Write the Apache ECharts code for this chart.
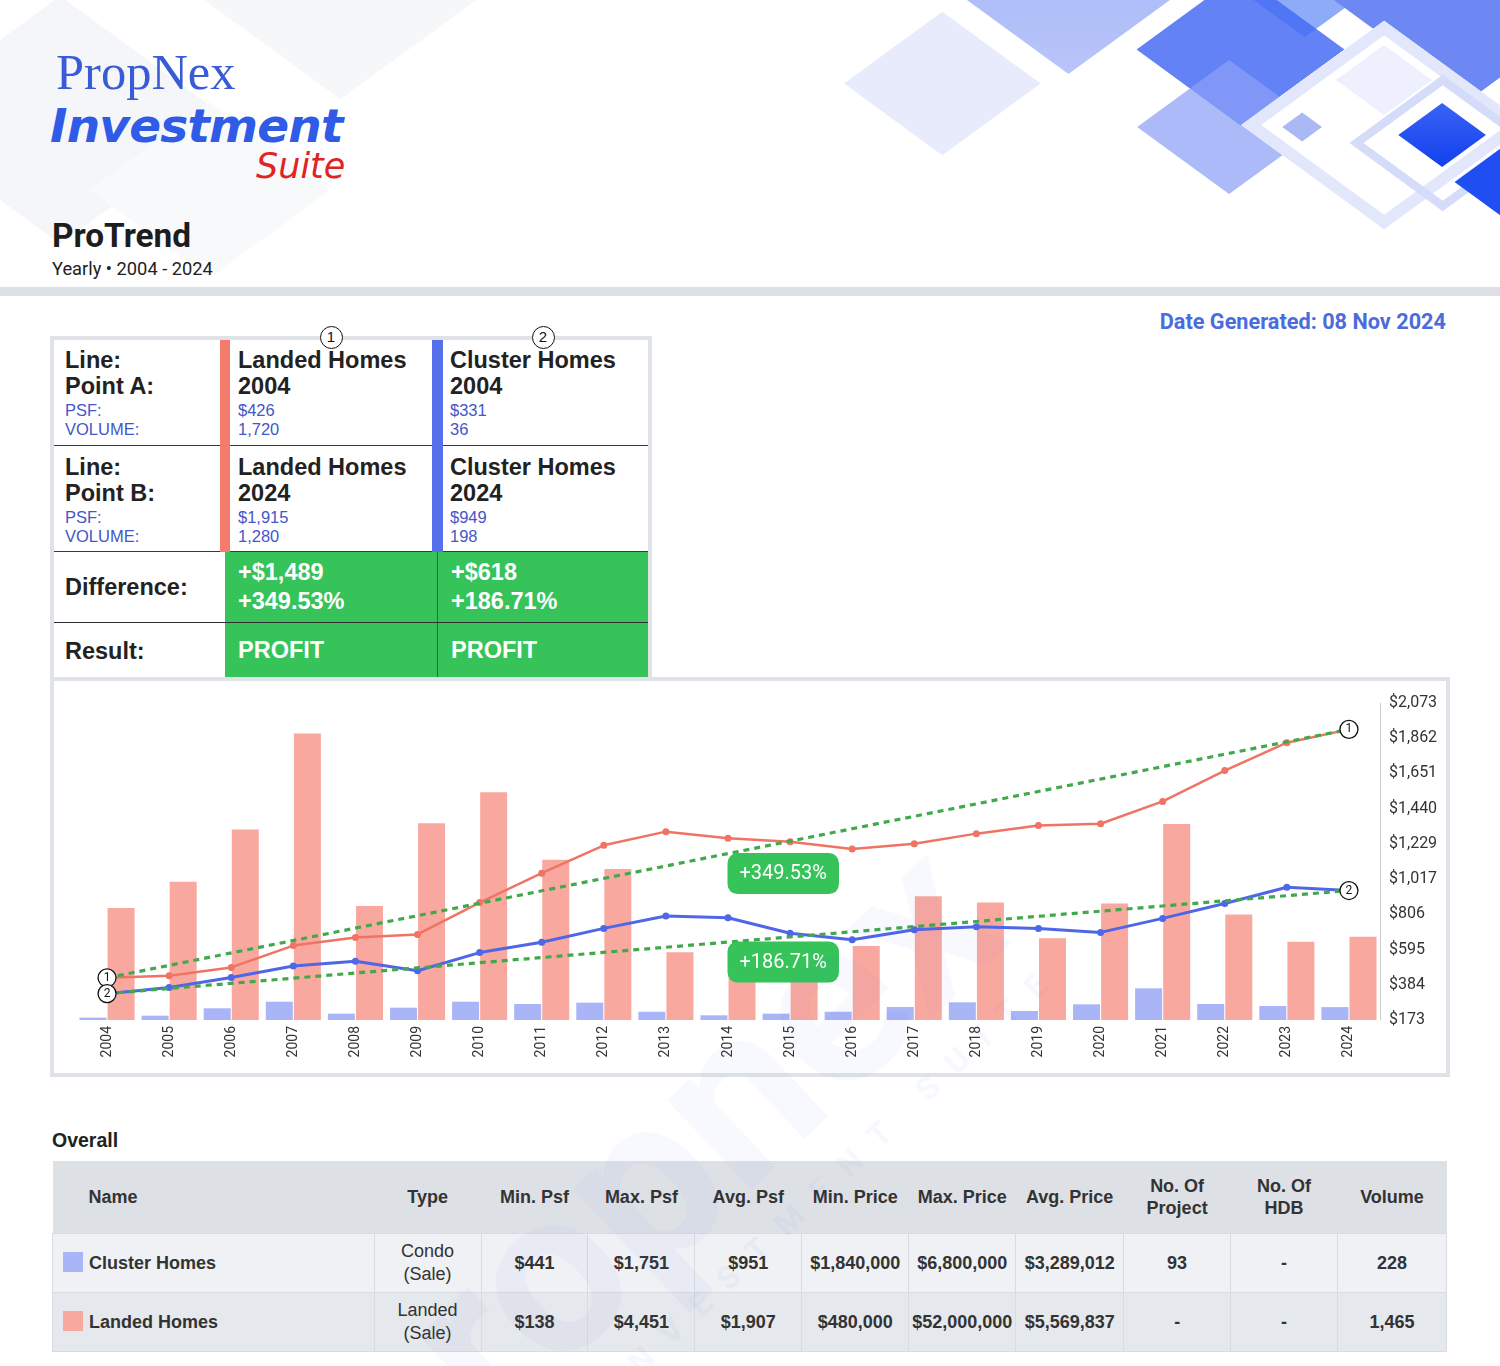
<!DOCTYPE html>
<html><head><meta charset="utf-8">
<script src="https://cdn.jsdelivr.net/npm/echarts@6/dist/echarts.min.js"></script>
<style>
html,body{margin:0;padding:0}
body{width:1500px;height:1366px;position:relative;overflow:hidden;background:#fff;font-family:Roboto,"Liberation Sans",Arial,sans-serif;color:#222}
.a{position:absolute;white-space:nowrap}
.dia{position:absolute;transform:scaleY(0.73) rotate(45deg);box-sizing:border-box}
#deco{position:absolute;left:0;top:0;width:1500px;height:287px;overflow:hidden}
.sum{font-family:"Liberation Sans",Arial,sans-serif}
.bL{font-weight:bold;font-size:23.5px;color:#222;line-height:26px}
.sL{font-size:16.5px;color:#4456c8;line-height:19px}
.wL{font-weight:bold;font-size:23.5px;color:#fff;line-height:29px}
.circ{position:absolute;width:23px;height:23px;border:1.7px solid #111;border-radius:50%;background:#fff;box-sizing:border-box;text-align:center;font:15px "Liberation Sans",Arial,sans-serif;line-height:20px;color:#111}
table.ov{position:absolute;left:52px;top:1161px;width:1395px;border-collapse:collapse;font-family:"Liberation Sans",Arial,sans-serif;font-size:18px;color:#333}
table.ov th{background:#dde1e6;height:72px;font-weight:bold;text-align:center;padding:0;line-height:22px}
table.ov td{height:58px;text-align:center;font-weight:bold;padding:0;border:1px solid #d8dbe0;line-height:23px}
table.ov tr.r1 td{background:#eff1f4}
table.ov tr.r2 td{background:#e5e8ec}
table.ov td.typ{font-weight:normal}
.sw{display:inline-block;width:20px;height:20px;vertical-align:middle;margin:0 6px 0 10px;position:relative;top:-2px}
#wm{position:absolute;left:0;top:0;width:1500px;height:1366px;pointer-events:none;overflow:hidden;z-index:20}
</style>
</head>
<body>
<div id="deco"></div>

<!-- Logo -->
<div class="a" style="left:56px;top:42px;font-family:'Liberation Serif','DejaVu Serif',serif;font-size:50.5px;color:#3a5bd8;line-height:60px">PropNex</div>
<div class="a" style="left:50px;top:96px;font-family:'DejaVu Sans',sans-serif;font-weight:bold;font-style:italic;font-size:47px;color:#2f5be6;line-height:60px;letter-spacing:-0.8px">Investment</div>
<div class="a" style="left:256px;top:144px;font-family:'DejaVu Sans',sans-serif;font-style:italic;font-size:35px;color:#e02424;line-height:44px;font-weight:normal">Suite</div>

<div class="a" style="left:52px;top:216px;font-size:33.4px;font-weight:bold;color:#1d1d1d;line-height:40px">ProTrend</div>
<div class="a" style="left:52px;top:258px;font-size:18.3px;color:#222;line-height:22px">Yearly • 2004 - 2024</div>

<div class="a" style="left:0;top:287px;width:1500px;height:9px;background:#dde1e6"></div>

<div class="a" style="right:54px;top:309px;font-size:21.7px;font-weight:bold;color:#4a6cdc;line-height:26px">Date Generated: 08 Nov 2024</div>

<!-- Summary table -->
<div id="sum" class="sum">
  <div class="a" style="left:50px;top:336px;width:602px;height:345px;border:4px solid #dfe3e8;box-sizing:border-box;background:#fff"></div>
  <div class="a" style="left:225px;top:552px;width:423px;height:125px;background:#35c35a"></div>
  <div class="a" style="left:437px;top:552px;width:1px;height:125px;background:#2a6e37"></div>
  <div class="a" style="left:54px;top:445px;width:594px;height:1px;background:#3a3a3a"></div>
  <div class="a" style="left:54px;top:551px;width:594px;height:1px;background:#3a3a3a"></div>
  <div class="a" style="left:54px;top:622px;width:594px;height:1px;background:#2f2f2f"></div>
  <div class="a" style="left:220px;top:340px;width:10px;height:212px;background:#f47c6c"></div>
  <div class="a" style="left:432px;top:340px;width:11px;height:212px;background:#5570ea"></div>

  <div class="a bL" style="left:65px;top:347px">Line:</div>
  <div class="a bL" style="left:65px;top:373px">Point A:</div>
  <div class="a sL" style="left:65px;top:401px">PSF:</div>
  <div class="a sL" style="left:65px;top:420px">VOLUME:</div>
  <div class="a bL" style="left:238px;top:347px">Landed Homes</div>
  <div class="a bL" style="left:238px;top:373px">2004</div>
  <div class="a sL" style="left:238px;top:401px">$426</div>
  <div class="a sL" style="left:238px;top:420px">1,720</div>
  <div class="a bL" style="left:450px;top:347px">Cluster Homes</div>
  <div class="a bL" style="left:450px;top:373px">2004</div>
  <div class="a sL" style="left:450px;top:401px">$331</div>
  <div class="a sL" style="left:450px;top:420px">36</div>

  <div class="a bL" style="left:65px;top:454px">Line:</div>
  <div class="a bL" style="left:65px;top:480px">Point B:</div>
  <div class="a sL" style="left:65px;top:508px">PSF:</div>
  <div class="a sL" style="left:65px;top:527px">VOLUME:</div>
  <div class="a bL" style="left:238px;top:454px">Landed Homes</div>
  <div class="a bL" style="left:238px;top:480px">2024</div>
  <div class="a sL" style="left:238px;top:508px">$1,915</div>
  <div class="a sL" style="left:238px;top:527px">1,280</div>
  <div class="a bL" style="left:450px;top:454px">Cluster Homes</div>
  <div class="a bL" style="left:450px;top:480px">2024</div>
  <div class="a sL" style="left:450px;top:508px">$949</div>
  <div class="a sL" style="left:450px;top:527px">198</div>

  <div class="a bL" style="left:65px;top:574px">Difference:</div>
  <div class="a wL" style="left:238px;top:558px">+$1,489</div>
  <div class="a wL" style="left:238px;top:587px">+349.53%</div>
  <div class="a wL" style="left:451px;top:558px">+$618</div>
  <div class="a wL" style="left:451px;top:587px">+186.71%</div>

  <div class="a bL" style="left:65px;top:638px">Result:</div>
  <div class="a wL" style="left:238px;top:636px">PROFIT</div>
  <div class="a wL" style="left:451px;top:636px">PROFIT</div>

  <div class="circ" style="left:319.5px;top:325.5px">1</div>
  <div class="circ" style="left:531.5px;top:325.5px">2</div>
</div>

<!-- Chart box -->
<div class="a" style="left:50px;top:677px;width:1400px;height:400px;border:4px solid #dfe3e8;box-sizing:border-box;background:#fff"></div>
<div id="chart" class="a" style="left:54px;top:681px;width:1392px;height:392px"></div>

<!-- Overall -->
<div class="a" style="left:52px;top:1127px;font-size:19.5px;font-weight:bold;color:#222;line-height:26px;font-family:'Liberation Sans',Arial,sans-serif">Overall</div>
<table class="ov" id="ov"></table>

<div id="wm"></div>

<script>
// ---------------- DATA ----------------
const years = ['2004','2005','2006','2007','2008','2009','2010','2011','2012','2013','2014','2015','2016','2017','2018','2019','2020','2021','2022','2023','2024'];
const landedPsf  = [426,438,488,619,667,686,877,1053,1220,1302,1263,1242,1198,1230,1290,1339,1349,1483,1668,1835,1915];
const clusterPsf = [331,368,428,497,525,468,577,639,722,796,786,693,654,714,732,722,698,782,871,969,949];
const landedVol  = [1720,2123,2927,4401,1750,3024,3500,2461,2318,1039,1000,850,1136,1903,1807,1254,1791,3013,1622,1202,1280];
const clusterVol = [36,66,180,281,97,189,281,246,266,127,72,97,127,200,272,138,241,487,246,215,198];
const psfTicks   = [173,384.11,595.22,806.33,1017.44,1228.56,1439.67,1650.78,1861.89,2073];
const trendLabels = ['+349.53%','+186.71%'];

const ovHeaders = ['Name','Type','Min. Psf','Max. Psf','Avg. Psf','Min. Price','Max. Price','Avg. Price','No. Of<br>Project','No. Of<br>HDB','Volume'];
const ovCluster = ['Cluster Homes','Condo<br>(Sale)','$441','$1,751','$951','$1,840,000','$6,800,000','$3,289,012','93','-','228'];
const ovLanded  = ['Landed Homes','Landed<br>(Sale)','$138','$4,451','$1,907','$480,000','$52,000,000','$5,569,837','-','-','1,465'];

// --------------- decoration ---------------
const decor = [
  {cx:60,cy:120,h:170,bg:'#f5f6f9'},
  {cx:340,cy:-40,h:190,bg:'#f6f7f9'},
  {cx:210,cy:190,h:120,bg:'#f8f9fb'},
  {cx:942,cy:83,h:98,bg:'#e8ebfb'},
  {cx:1068,cy:-25,h:135,bg:'linear-gradient(135deg,#9fb1f7,#b9c5f9)'},
  {cx:1305,cy:-35,h:100,bg:'#8eabf8'},
  {cx:1470,cy:-10,h:150,bg:'#6d88f2'},
  {cx:1241,cy:50,h:104,bg:'rgba(70,108,244,0.85)'},
  {cx:1229,cy:127,h:92,bg:'rgba(140,160,246,0.72)'},
  {cx:1384,cy:125,h:143,bg:'#ffffff',border:'14px solid #e3e7fb'},
  {cx:1384,cy:80,h:48,bg:'#eef1fd'},
  {cx:1443,cy:143,h:93,bg:'transparent',border:'10px solid #d5dcfa'},
  {cx:1302,cy:127,h:20,bg:'#aab9f6'},
  {cx:1442,cy:135,h:44,bg:'linear-gradient(135deg,#3a62f4,#1241ee)'},
  {cx:1500,cy:182,h:45,bg:'#1f4ff2'}
];
const deco = document.getElementById('deco');
decor.forEach(d=>{
  const s = d.h*Math.SQRT2;
  const el = document.createElement('div');
  el.className='dia';
  el.style.left=(d.cx-s/2)+'px'; el.style.top=(d.cy-s/2)+'px';
  el.style.width=s+'px'; el.style.height=s+'px';
  el.style.background=d.bg;
  if(d.border) el.style.border=d.border;
  deco.appendChild(el);
});

// watermark
const wm = document.getElementById('wm');
const w1 = document.createElement('div');
w1.textContent='propnex';
w1.style.cssText='position:absolute;left:345px;top:1350px;font:bold 232px Roboto,sans-serif;color:rgba(70,100,225,0.04);transform:rotate(-43.5deg);transform-origin:0 50%;line-height:232px;white-space:nowrap';
wm.appendChild(w1);
const w2 = document.createElement('div');
w2.textContent='INVESTMENT SUITE';
w2.style.cssText='position:absolute;left:612px;top:1372px;font:bold 32px Roboto,sans-serif;letter-spacing:20px;color:rgba(70,100,225,0.045);transform:rotate(-43.5deg);transform-origin:0 50%;line-height:32px;white-space:nowrap';
wm.appendChild(w2);

// Overall table
const ov = document.getElementById('ov');
const widths = [322,107,107,107,107,107,107,108,107,107,109];
let html = '<colgroup>'+widths.map(w=>'<col style="width:'+w+'px">').join('')+'</colgroup>';
html += '<tr>'+ovHeaders.map((h,i)=>'<th'+(i===0?' style="text-align:left;padding-left:36px"':'')+'>'+h+'</th>').join('')+'</tr>';
function row(cls, data, color){
  return '<tr class="'+cls+'">'+data.map((v,i)=>{
    if(i===0) return '<td style="text-align:left"><span class="sw" style="background:'+color+'"></span>'+v+'</td>';
    if(i===1) return '<td class="typ">'+v+'</td>';
    return '<td>'+v+'</td>';
  }).join('')+'</tr>';
}
html += row('r1', ovCluster, '#a9b5f7');
html += row('r2', ovLanded, '#f9a89f');
ov.innerHTML = html;

// --------------- chart ---------------
const chart = echarts.init(document.getElementById('chart'), null, {renderer:'canvas'});
const green = '#40a94b';
function circleMark(idx, val, num){
  return {coord:[years[idx], val], value:num, symbol:'circle', symbolSize:18,
    itemStyle:{color:'#fff', borderColor:'#111', borderWidth:1.3},
    label:{show:true, position:'inside', formatter:num, color:'#111', fontSize:12, fontFamily:'Roboto'}};
}
function pctMark(a, b, text){
  const mid = Math.round((years.length-1)/2);
  return {coord:[years[mid], (a+b)/2], value:text, symbol:'rect', symbolSize:1,
    itemStyle:{color:'rgba(0,0,0,0)'},
    label:{show:true, position:[0,0], align:'left', verticalAlign:'top', formatter:text,
      backgroundColor:'#35c35a', borderRadius:10, padding:[9,12,8,12], color:'#fff',
      fontSize:20, lineHeight:24, fontFamily:'Roboto'}};
}
const n = years.length-1;
const option = {
  animation:false,
  grid:{left:22, top:22, width:1304, height:317, containLabel:false},
  xAxis:{type:'category', data:years, boundaryGap:true,
    axisLine:{show:false}, axisTick:{show:false},
    axisLabel:{rotate:90, fontSize:14, color:'#333', margin:6, fontFamily:'Roboto', interval:0}},
  yAxis:[
    {type:'value', position:'right', min:173, max:2073,
     axisLine:{show:true, lineStyle:{color:'#cfcfcf', width:1}},
     axisTick:{show:false}, splitLine:{show:false},
     axisLabel:{customValues:psfTicks, fontSize:16, color:'#333', margin:9, fontFamily:'Roboto',
       formatter:v=>'$'+Math.round(v).toLocaleString('en-US')}},
    {type:'value', min:0, max:4870, show:false, splitLine:{show:false}}
  ],
  series:[
    {name:'Cluster Homes Volume', type:'bar', yAxisIndex:1, data:clusterVol, barWidth:27, barGap:'4%',
     itemStyle:{color:'#a9b5f7'}, z:1},
    {name:'Landed Homes Volume', type:'bar', yAxisIndex:1, data:landedVol, barWidth:27, barGap:'4%',
     itemStyle:{color:'#f9a89f'}, z:1},
    {name:'Landed Homes PSF', type:'line', yAxisIndex:0, data:landedPsf, z:3,
     lineStyle:{color:'#ef7464', width:2.5}, itemStyle:{color:'#ef7464'}, symbol:'circle', symbolSize:7,
     markLine:{silent:true, symbol:'none', z:8, label:{show:false},
       lineStyle:{color:green, type:[6,5], width:3.2},
       data:[[{coord:[years[0], landedPsf[0]]},{coord:[years[n], landedPsf[n]]}]]},
     markPoint:{silent:true, z:10, data:[circleMark(0, landedPsf[0], '1'), circleMark(n, landedPsf[n], '1'),
       pctMark(landedPsf[0], landedPsf[n], trendLabels[0])]}},
    {name:'Cluster Homes PSF', type:'line', yAxisIndex:0, data:clusterPsf, z:3,
     lineStyle:{color:'#4f67e6', width:3}, itemStyle:{color:'#4f67e6'}, symbol:'circle', symbolSize:7,
     markLine:{silent:true, symbol:'none', z:8, label:{show:false},
       lineStyle:{color:green, type:[6,5], width:3.2},
       data:[[{coord:[years[0], clusterPsf[0]]},{coord:[years[n], clusterPsf[n]]}]]},
     markPoint:{silent:true, z:10, data:[circleMark(0, clusterPsf[0], '2'), circleMark(n, clusterPsf[n], '2'),
       pctMark(clusterPsf[0], clusterPsf[n], trendLabels[1])]}}
  ]
};
chart.setOption(option);
</script>
</body></html>
